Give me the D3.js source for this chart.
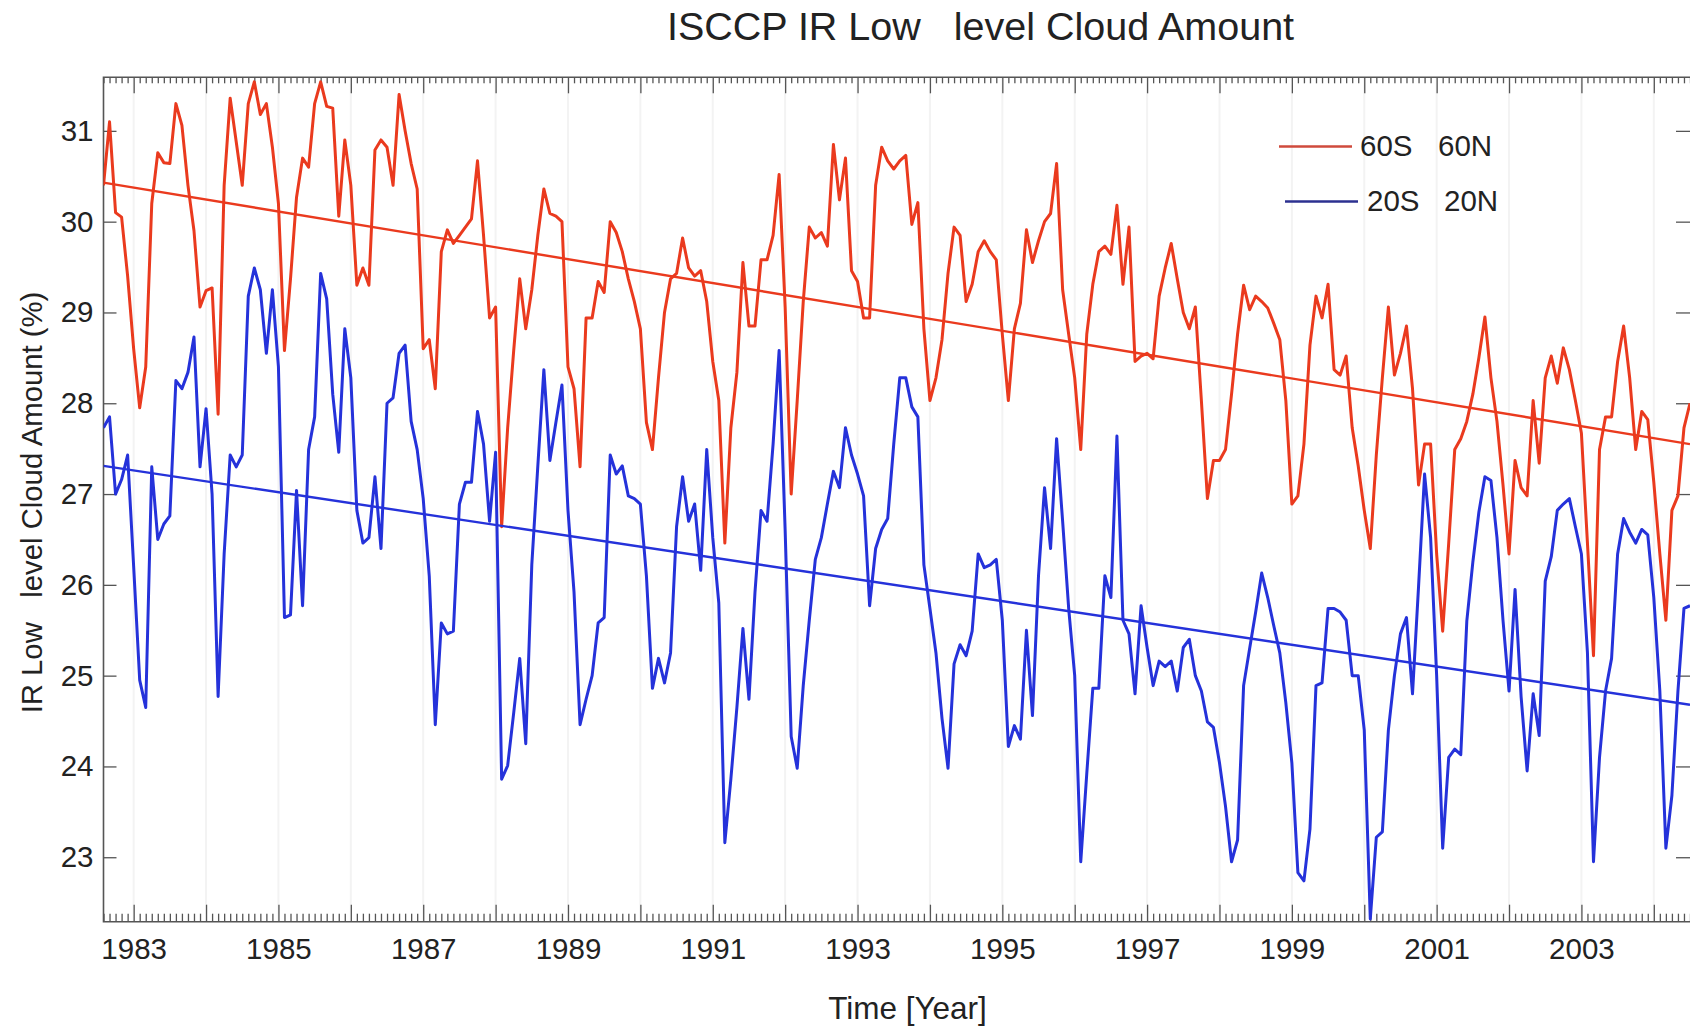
<!DOCTYPE html>
<html>
<head>
<meta charset="utf-8">
<script src="https://cdn.jsdelivr.net/npm/d3@7"></script>
<style>
  html, body { margin: 0; padding: 0; background: #fff; }
  svg { display: block; font-family: "Liberation Sans", Arial, Helvetica, sans-serif; }
  text { white-space: pre; }
</style>
</head>
<body>
<svg id="chart"></svg>
<script>
// monthly series, first value = July of the first labelled season
const startYear = 1982 + 7 / 12;

const red6060 = [
  30.4, 31.1, 30.1, 30.05, 29.4, 28.6, 27.95, 28.4, 30.2, 30.76, 30.65, 30.64,
  31.3, 31.06, 30.4, 29.9, 29.06, 29.24, 29.27, 27.88, 30.4, 31.36, 30.88, 30.4,
  31.3, 31.54, 31.18, 31.3, 30.82, 30.2, 28.58, 29.37, 30.27, 30.7, 30.6, 31.3,
  31.54, 31.27, 31.25, 30.06, 30.9, 30.4, 29.3, 29.49, 29.3, 30.79, 30.9, 30.82,
  30.4, 31.4, 31.0, 30.64, 30.36, 28.6, 28.7, 28.16, 29.67, 29.91, 29.76, 29.85,
  29.94, 30.03, 30.67, 29.85, 28.94, 29.06, 26.64, 27.73, 28.58, 29.37, 28.82, 29.25,
  29.85, 30.36, 30.09, 30.06, 30.0, 28.4, 28.16, 27.3, 28.94, 28.94, 29.34, 29.22,
  30.0, 29.88, 29.67, 29.37, 29.12, 28.82, 27.79, 27.49, 28.28, 29.0, 29.37, 29.43,
  29.82, 29.49, 29.4, 29.46, 29.12, 28.46, 28.03, 26.46, 27.73, 28.34, 29.55, 28.85,
  28.85, 29.58, 29.58, 29.85, 30.52, 29.06, 27.0, 28.03, 29.12, 29.94, 29.82, 29.88,
  29.73, 30.85, 30.24, 30.7, 29.46, 29.34, 28.94, 28.94, 30.4, 30.82, 30.67, 30.58,
  30.67, 30.73, 29.97, 30.21, 28.82, 28.03, 28.28, 28.7, 29.43, 29.94, 29.85, 29.12,
  29.31, 29.67, 29.79, 29.67, 29.58, 28.76, 28.03, 28.82, 29.1, 29.91, 29.55, 29.79,
  30.0, 30.09, 30.64, 29.25, 28.76, 28.28, 27.49, 28.76, 29.31, 29.67, 29.73, 29.64,
  30.18, 29.31, 29.94, 28.46, 28.52, 28.55, 28.49, 29.18, 29.49, 29.76, 29.37, 29.0,
  28.82, 29.06, 28.03, 26.95, 27.37, 27.37, 27.49, 28.1, 28.76, 29.3, 29.03, 29.18,
  29.12, 29.05, 28.88, 28.7, 28.03, 26.89, 26.98, 27.55, 28.64, 29.18, 28.94, 29.31,
  28.37, 28.31, 28.52, 27.73, 27.31, 26.82, 26.4, 27.43, 28.28, 29.06, 28.31, 28.55,
  28.85, 28.16, 27.1, 27.55, 27.55, 26.34, 25.49, 26.46, 27.49, 27.61, 27.8, 28.1,
  28.5, 28.95, 28.28, 27.8, 27.1, 26.34, 27.37, 27.07, 26.98, 28.03, 27.34, 28.28,
  28.52, 28.22, 28.61, 28.37, 28.03, 27.67, 26.46, 25.22, 27.49, 27.85, 27.85, 28.46,
  28.85, 28.28, 27.49, 27.91, 27.82, 27.13, 26.34, 25.61, 26.82, 26.98, 27.73, 28.0
];

const blue2020 = [
  27.73, 27.85, 27.0, 27.16, 27.43, 26.2, 24.95, 24.65, 27.3, 26.5, 26.67, 26.76,
  28.25, 28.16, 28.34, 28.73, 27.3, 27.94, 27.0, 24.77, 26.34, 27.43, 27.3, 27.43,
  29.18, 29.49, 29.25, 28.55, 29.25, 28.4, 25.64, 25.67, 27.04, 25.77, 27.49, 27.85,
  29.43, 29.15, 28.1, 27.46, 28.82, 28.28, 26.82, 26.46, 26.52, 27.19, 26.4, 28.0,
  28.06, 28.55, 28.64, 27.8, 27.49, 26.95, 26.1, 24.46, 25.58, 25.46, 25.49, 26.89,
  27.13, 27.13, 27.91, 27.55, 26.7, 27.46, 23.86, 24.01, 24.59, 25.19, 24.25, 26.22,
  27.31, 28.37, 27.37, 27.79, 28.2, 26.82, 25.92, 24.46, 24.74, 25.0, 25.58, 25.64,
  27.43, 27.22, 27.31, 26.98, 26.95, 26.89, 26.1, 24.86, 25.19, 24.92, 25.25, 26.64,
  27.19, 26.7, 26.89, 26.16, 27.49, 26.52, 25.8, 23.16, 23.86, 24.65, 25.52, 24.74,
  25.92, 26.82, 26.7, 27.55, 28.58, 26.6, 24.33, 23.98, 24.89, 25.61, 26.28, 26.52,
  26.89, 27.25, 27.07, 27.73, 27.43, 27.22, 26.98, 25.77, 26.4, 26.61, 26.73, 27.55,
  28.28, 28.28, 27.96, 27.85, 26.22, 25.74, 25.25, 24.53, 23.98, 25.13, 25.34, 25.22,
  25.49, 26.34, 26.19, 26.22, 26.28, 25.61, 24.22, 24.45, 24.3, 25.5, 24.56, 26.1,
  27.07, 26.4, 27.61, 26.7, 25.74, 25.0, 22.95, 23.92, 24.86, 24.86, 26.1, 25.86,
  27.64, 25.61, 25.46, 24.8, 25.77, 25.31, 24.89, 25.16, 25.1, 25.16, 24.83, 25.31,
  25.4, 25.0, 24.83, 24.49, 24.43, 24.04, 23.56, 22.95, 23.19, 24.89, 25.3, 25.7,
  26.13, 25.86, 25.55, 25.25, 24.7, 24.04, 22.83, 22.74, 23.31, 24.89, 24.92, 25.74,
  25.74, 25.7, 25.61, 25.0, 25.0, 24.4, 22.32, 23.22, 23.28, 24.4, 25.0, 25.46,
  25.64, 24.8, 25.98, 27.22, 26.52, 25.0, 23.1, 24.1, 24.19, 24.13, 25.6, 26.25,
  26.8, 27.19, 27.15, 26.52, 25.61, 24.83, 25.95, 24.77, 23.95, 24.8, 24.34, 26.04,
  26.31, 26.82, 26.89, 26.95, 26.64, 26.34, 25.25, 22.95, 24.1, 24.83, 25.19, 26.34,
  26.73, 26.58, 26.46, 26.61, 26.55, 25.86, 24.83, 23.1, 23.68, 24.83, 25.74, 25.77
];

// linear trend, value at first and last month
const redTrend = [30.43, 27.55];
const blueTrend = [27.31, 24.68];

const yTicks = [23, 24, 25, 26, 27, 28, 29, 30, 31];
const yearTicks = d3.range(1983, 2005);
const labelYears = [1983, 1985, 1987, 1989, 1991, 1993, 1995, 1997, 1999, 2001, 2003];
const seriesNames = [['60S', '60N'], ['20S', '20N']];
const seriesColors = ['#ea3a1e', '#2532da'];
const legendColors = ['#cf4a3c', '#2c3190'];

const width = 1690;
const height = 1029;
const plot = { left: 103.5, right: 1690, top: 77.3, bottom: 921.7 };

const nMonths = red6060.length;
const endYear = startYear + (nMonths - 1) / 12;
const monthTicks = d3.range(0, nMonths).map(i => startYear + i / 12)
  .filter(t => Math.abs(t - Math.round(t)) > 1e-6);

const svg = d3.select('#chart')
  .attr('width', width)
  .attr('height', height);

const x = d3.scaleLinear()
  .domain([startYear, endYear])
  .range([plot.left, plot.right]);

const y = d3.scaleLinear()
  .domain([22.29, 31.59])
  .range([plot.bottom, plot.top]);

svg.append('clipPath')
  .attr('id', 'plotClip')
  .append('rect')
  .attr('x', plot.left)
  .attr('y', plot.top)
  .attr('width', plot.right - plot.left)
  .attr('height', plot.bottom - plot.top);

// faint yearly grid
svg.append('g')
  .selectAll('line')
  .data(yearTicks)
  .join('line')
  .attr('x1', d => x(d))
  .attr('x2', d => x(d))
  .attr('y1', plot.top)
  .attr('y2', plot.bottom)
  .attr('stroke', '#f3f3f3')
  .attr('stroke-width', 2);

// axes
const axisColor = '#555';
const styleAxis = g => {
  g.select('.domain').remove();
  g.selectAll('.tick line').attr('stroke', axisColor).attr('stroke-width', 1.3);
  g.selectAll('.tick text')
    .attr('fill', '#222')
    .attr('font-size', 29.5)
    .attr('font-family', '"Liberation Sans", Arial, Helvetica, sans-serif');
};

svg.append('g')
  .attr('transform', `translate(0, ${plot.bottom})`)
  .call(d3.axisBottom(x).tickValues(monthTicks).tickSize(-8).tickFormat(''))
  .call(styleAxis);

svg.append('g')
  .attr('transform', `translate(0, ${plot.bottom})`)
  .call(d3.axisBottom(x)
    .tickValues(yearTicks)
    .tickSize(-17)
    .tickPadding(16)
    .tickFormat(d => labelYears.includes(d) ? String(d) : ''))
  .call(styleAxis);

svg.append('g')
  .attr('transform', `translate(0, ${plot.top})`)
  .call(d3.axisTop(x).tickValues(monthTicks).tickSize(-6).tickFormat(''))
  .call(styleAxis);

svg.append('g')
  .attr('transform', `translate(0, ${plot.top})`)
  .call(d3.axisTop(x).tickValues(yearTicks).tickSize(-16).tickFormat(''))
  .call(styleAxis);

svg.append('g')
  .attr('transform', `translate(${plot.left}, 0)`)
  .call(d3.axisLeft(y).tickValues(yTicks).tickSize(-13).tickPadding(10).tickFormat(d3.format('d')))
  .call(styleAxis);

svg.append('g')
  .attr('transform', `translate(${plot.right + 2}, 0)`)
  .call(d3.axisRight(y).tickValues(yTicks).tickSize(-16).tickFormat(''))
  .call(styleAxis);

// frame
svg.append('path')
  .attr('d', `M${plot.right + 2},${plot.top}H${plot.left}V${plot.bottom}H${plot.right + 2}`)
  .attr('fill', 'none')
  .attr('stroke', axisColor)
  .attr('stroke-width', 1.6);

// data
const line = d3.line()
  .x((d, i) => x(startYear + i / 12))
  .y(d => y(d));

const dataG = svg.append('g').attr('clip-path', 'url(#plotClip)');

[red6060, blue2020].forEach((series, k) => {
  dataG.append('path')
    .datum(series)
    .attr('d', line)
    .attr('fill', 'none')
    .attr('stroke', seriesColors[k])
    .attr('stroke-width', 3)
    .attr('stroke-linejoin', 'round');
});

[redTrend, blueTrend].forEach((trend, k) => {
  dataG.append('line')
    .attr('x1', x(startYear))
    .attr('x2', x(endYear))
    .attr('y1', y(trend[0]))
    .attr('y2', y(trend[1]))
    .attr('stroke', seriesColors[k])
    .attr('stroke-width', 2.4);
});

// legend
const legend = svg.append('g');
const legendRows = [
  { lx: 1279, ly: 146.5, tx: 1360, nx: 1438, base: 156 },
  { lx: 1285, ly: 201.5, tx: 1367, nx: 1444, base: 211 }
];
legendRows.forEach((r, k) => {
  legend.append('line')
    .attr('x1', r.lx)
    .attr('x2', r.lx + 73)
    .attr('y1', r.ly)
    .attr('y2', r.ly)
    .attr('stroke', legendColors[k])
    .attr('stroke-width', 2.4);
  const t = legend.append('text')
    .attr('y', r.base)
    .attr('font-size', 29.5)
    .attr('fill', '#222');
  t.append('tspan').attr('x', r.tx).text(seriesNames[k][0]);
  t.append('tspan').attr('x', r.nx).text(seriesNames[k][1]);
});

// titles
svg.append('text')
  .attr('x', 980.5)
  .attr('y', 39.5)
  .attr('text-anchor', 'middle')
  .attr('font-size', 39.5)
  .attr('fill', '#222')
  .text('ISCCP IR Low   level Cloud Amount');

svg.append('text')
  .attr('transform', `translate(42, ${(plot.top + plot.bottom) / 2 + 3}) rotate(-90)`)
  .attr('text-anchor', 'middle')
  .attr('font-size', 29.3)
  .attr('fill', '#222')
  .text('IR Low   level Cloud Amount (%)');

svg.append('text')
  .attr('x', 907.5)
  .attr('y', 1019)
  .attr('text-anchor', 'middle')
  .attr('font-size', 31.5)
  .attr('fill', '#222')
  .text('Time [Year]');
</script>
</body>
</html>
